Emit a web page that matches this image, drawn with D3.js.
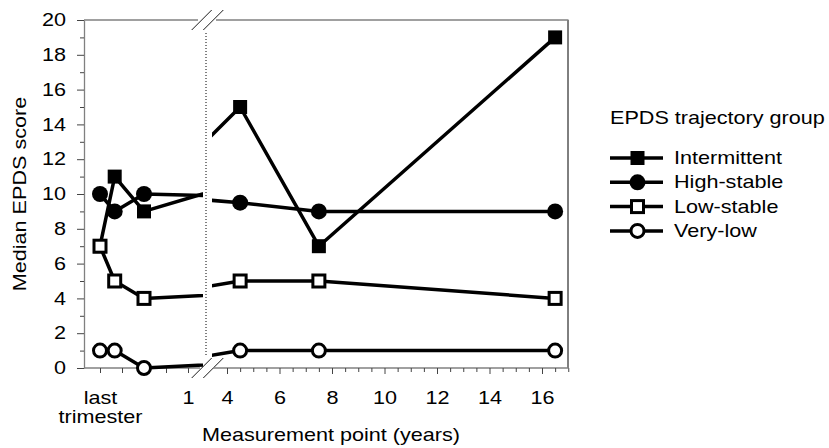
<!DOCTYPE html>
<html>
<head>
<meta charset="utf-8">
<script src="https://cdn.jsdelivr.net/npm/d3@7"></script>
<style>
  body { margin: 0; background: #fff; }
  svg { font-family: "Liberation Sans", Arial, sans-serif; }
</style>
</head>
<body>
<div id="chart"></div>
<script>
// measurement times in years (0 = last trimester)
var times = [0, 0.167, 0.5, 4.5, 7.5, 16.5]
var groups = ['Intermittent', 'High-stable', 'Low-stable', 'Very-low']
var intermittent = [7, 11, 9, 15, 7, 19]
var highStable = [10, 9, 10, 9.5, 9, 9]
var lowStable = [7, 5, 4, 5, 5, 4]
var veryLow = [1, 1, 0, 1, 1, 1]
var yTicks = d3.range(0, 21, 1)
var leftTicks = [0, 0.25, 0.5, 0.75, 1]
var rightTicks = d3.range(4, 17.01, 0.5)

var series = [
  { name: groups[0], values: intermittent, shape: 'square', fill: '#000' },
  { name: groups[1], values: highStable, shape: 'circle', fill: '#000' },
  { name: groups[2], values: lowStable, shape: 'square', fill: '#fff' },
  { name: groups[3], values: veryLow, shape: 'circle', fill: '#fff' }
]

var plotLeft = 84, plotRight = 568, plotTop = 20, plotBottom = 368, breakX = 206
var fontSize = 18, widen = 1.2

// the reference font is wider than Liberation Sans, stretch text horizontally
function stretch(sel) {
  sel.each(function() {
    var t = d3.select(this)
      , x0 = +(t.attr('x') || 0)
      , tr = t.attr('transform') || ''
    t.attr('x', x0 / widen)
      .attr('transform', tr + ' scale(' + widen + ',1)')
      .attr('font-size', fontSize)
      .attr('font-family', '"Liberation Sans", Arial, sans-serif')
      .attr('fill', '#000')
  })
}

var svg = d3.select('#chart').append('svg')
  .attr('width', 829)
  .attr('height', 448)

var y = d3.scaleLinear().domain([0, 20]).range([plotBottom, plotTop])
  , xL = d3.scaleLinear().domain([0, 1]).range([100, 188])
  , xR = d3.scaleLinear().domain([4, 16]).range([227, 542])
  , x = function(t) { return t < 2 ? xL(t) : xR(t) }

var defs = svg.append('defs')
defs.append('clipPath').attr('id', 'clipL')
  .append('rect').attr('x', plotLeft).attr('y', 0).attr('width', 203 - plotLeft).attr('height', 448)
defs.append('clipPath').attr('id', 'clipR')
  .append('rect').attr('x', 212).attr('y', 0).attr('width', plotRight - 212).attr('height', 448)

// frame
svg.append('line')
  .attr('x1', plotRight).attr('x2', plotRight).attr('y1', plotTop).attr('y2', plotBottom)
  .attr('stroke', '#000').attr('stroke-width', 1)
svg.append('line')
  .attr('x1', plotLeft).attr('x2', 198).attr('y1', plotTop).attr('y2', plotTop)
  .attr('stroke', '#808080').attr('stroke-width', 1.3)
svg.append('line')
  .attr('x1', 216).attr('x2', plotRight + 0.5).attr('y1', plotTop).attr('y2', plotTop)
  .attr('stroke', '#808080').attr('stroke-width', 1.3)

// dotted break line
svg.append('line')
  .attr('x1', breakX).attr('x2', breakX).attr('y1', 33).attr('y2', 355)
  .attr('stroke', '#000').attr('stroke-width', 1).attr('stroke-dasharray', '1,2')

// break slashes
;[plotTop, plotBottom].forEach(function(yy) {
  [0, 11.6].forEach(function(dx) {
    svg.append('line')
      .attr('x1', 191.7 + dx).attr('y1', yy + 10)
      .attr('x2', 211.7 + dx).attr('y2', yy - 10)
      .attr('stroke', '#000').attr('stroke-width', 0.9)
  })
})

// y axis
var yAxis = svg.append('g')
  .attr('transform', 'translate(' + plotLeft + ',0)')
  .call(d3.axisLeft(y).tickValues(yTicks)
    .tickSize(0)
    .tickFormat(function(d) { return d % 2 === 0 ? d : '' }))
yAxis.select('.domain').attr('stroke', '#808080').attr('stroke-width', 1.3)
yAxis.selectAll('.tick line')
  .attr('x2', function(d) { return d % 2 === 0 ? -7 : -4 })
  .attr('stroke', '#444')
yAxis.selectAll('.tick text').attr('x', -18)
stretch(yAxis.selectAll('.tick text'))

// x axes (left and right of the break)
svg.append('line')
  .attr('x1', plotLeft).attr('x2', 200).attr('y1', plotBottom).attr('y2', plotBottom)
  .attr('stroke', '#808080').attr('stroke-width', 1.3)
svg.append('line')
  .attr('x1', 213).attr('x2', plotRight).attr('y1', plotBottom).attr('y2', plotBottom)
  .attr('stroke', '#808080').attr('stroke-width', 1.3)

var xAxisL = svg.append('g')
  .attr('transform', 'translate(0,' + plotBottom + ')')
  .call(d3.axisBottom(xL).tickValues(leftTicks).tickSize(5)
    .tickFormat(function(d) { return d === 1 ? '1' : d === 0 ? 'last' : '' }))
var xAxisR = svg.append('g')
  .attr('transform', 'translate(0,' + plotBottom + ')')
  .call(d3.axisBottom(xR).tickValues(rightTicks)
    .tickSize(5)
    .tickFormat(function(d) { return d % 2 === 0 ? d : '' }))

xAxisL.selectAll('.tick').filter(function(d) { return d === 0 }).append('text')
  .attr('y', 42).attr('dy', '0.71em')
  .attr('text-anchor', 'middle')
  .text('trimester')

;[xAxisL, xAxisR].forEach(function(ax) {
  ax.select('.domain').remove()
  ax.selectAll('.tick line').attr('stroke', '#444')
  ax.selectAll('.tick text').filter(function() { return this.textContent !== 'trimester' })
    .attr('y', 23)
  stretch(ax.selectAll('.tick text'))
})
xAxisR.selectAll('.tick line').attr('y2', function(d) { return d % 2 === 0 ? 6 : 4 })

// data lines: drawn once per side of the break, clipped
var line = function(scale) {
  return d3.line()
    .x(function(d, i) { return scale(times[i]) })
    .y(function(d) { return y(d) })
}

series.forEach(function(s) {
  ;[['clipL', xL], ['clipR', xR]].forEach(function(side) {
    svg.append('path')
      .datum(s.values)
      .attr('clip-path', 'url(#' + side[0] + ')')
      .attr('d', line(side[1]))
      .attr('fill', 'none')
      .attr('stroke', '#000')
      .attr('stroke-width', 3.5)
      .attr('stroke-linejoin', 'round')
  })
})

function drawMarker(g, shape, fill, cx, cy) {
  if (shape === 'square') {
    var side = fill === '#000' ? 14 : 12
    g.append('rect')
      .attr('x', cx - side / 2).attr('y', cy - side / 2)
      .attr('width', side).attr('height', side)
      .attr('fill', fill)
      .attr('stroke', '#000').attr('stroke-width', fill === '#000' ? 0 : 3)
  } else {
    g.append('circle')
      .attr('cx', cx).attr('cy', cy)
      .attr('r', fill === '#000' ? 8 : 6.5)
      .attr('fill', fill)
      .attr('stroke', '#000').attr('stroke-width', fill === '#000' ? 0 : 3)
  }
}

series.forEach(function(s) {
  var g = svg.append('g')
  s.values.forEach(function(v, i) {
    drawMarker(g, s.shape, s.fill, x(times[i]), y(v))
  })
})

// axis titles
svg.append('text')
  .attr('transform', 'translate(20,' + ((plotTop + plotBottom) / 2) + ') rotate(-90)')
  .attr('text-anchor', 'middle')
  .attr('dominant-baseline', 'central')
  .text('Median EPDS score')
  .call(stretch)

svg.append('text')
  .attr('x', 331).attr('y', 441)
  .attr('text-anchor', 'middle')
  .text('Measurement point (years)')
  .call(stretch)

// legend
var legend = svg.append('g').attr('transform', 'translate(610,0)')
legend.append('text')
  .attr('x', 0).attr('y', 124)
  .text('EPDS trajectory group')
  .call(stretch)

series.forEach(function(s, i) {
  var cy = 158 + i * 24.3
  var row = legend.append('g')
  row.append('line')
    .attr('x1', 0).attr('x2', 53).attr('y1', cy).attr('y2', cy)
    .attr('stroke', '#000').attr('stroke-width', 3.5)
  drawMarker(row, s.shape, s.fill, 27.5, cy)
  row.append('text')
    .attr('x', 64).attr('y', cy + 6)
    .text(s.name)
    .call(stretch)
})
</script>
</body>
</html>
